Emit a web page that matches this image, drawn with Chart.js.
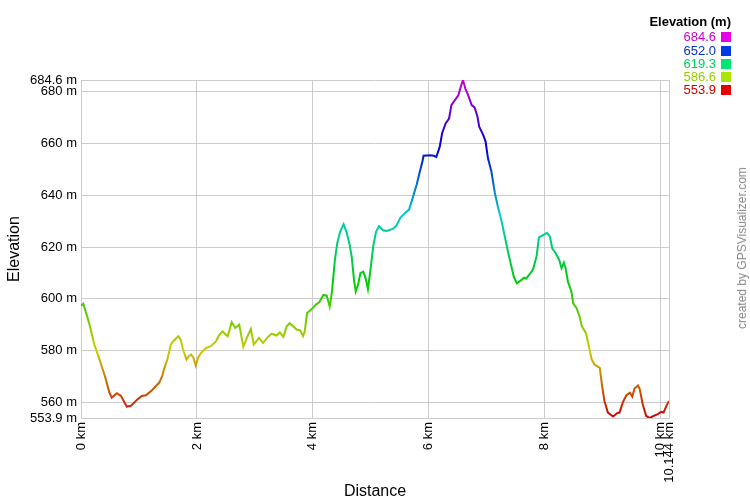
<!DOCTYPE html>
<html>
<head>
<meta charset="utf-8">
<title>Elevation profile</title>
<script src="https://cdn.jsdelivr.net/npm/chart.js@4.4.1/dist/chart.umd.min.js"></script>
<style>
  body { margin: 0; background: #fff; font-family: "Liberation Sans", Arial, sans-serif; }
  #wrap { position: relative; width: 750px; height: 500px; }
  #legend { position: absolute; top: 15px; right: 19px; text-align: right; font-size: 13px; line-height: 13.3px; }
  #legend .title { font-weight: bold; color: #000; margin-bottom: 2px; }
  #legend .row span.sq { display: inline-block; width: 10px; height: 10px; margin-left: 5px; vertical-align: -1px; }
  #credit { position: absolute; left: 742px; top: 248px; color: #888; font-size: 12px; white-space: nowrap;
            transform: translate(-50%, -50%) rotate(-90deg); }
</style>
</head>
<body>
<div id="wrap">
  <canvas id="elevChart" width="750" height="500"></canvas>
  <div id="legend"></div>
  <div id="credit">created by GPSVisualizer.com</div>
</div>
<script>
// Datos del perfil (distancia en km, altitud en m)
const distanceKm = [
  0.00, 0.04, 0.14, 0.23, 0.32, 0.42, 0.49, 0.53, 0.62, 0.69, 0.79, 0.86, 0.98, 1.05, 1.12,
  1.21, 1.28, 1.35, 1.40, 1.44, 1.49, 1.55, 1.59, 1.68, 1.72, 1.76, 1.82, 1.86, 1.90, 1.94,
  1.98, 2.02, 2.07, 2.16, 2.24, 2.33, 2.37, 2.44, 2.53, 2.60, 2.66, 2.73, 2.80, 2.86, 2.93,
  2.98, 3.07, 3.14, 3.21, 3.29, 3.37, 3.43, 3.49, 3.55, 3.60, 3.66, 3.72, 3.78, 3.83, 3.86,
  3.90, 3.98, 4.05, 4.11, 4.18, 4.24, 4.29, 4.33, 4.38, 4.42, 4.47, 4.53, 4.58, 4.63, 4.67,
  4.71, 4.74, 4.78, 4.82, 4.87, 4.91, 4.95, 4.99, 5.04, 5.09, 5.14, 5.21, 5.27, 5.38, 5.44,
  5.51, 5.59, 5.66, 5.73, 5.79, 5.84, 5.89, 5.91, 6.02, 6.09, 6.13, 6.19, 6.23, 6.29, 6.35,
  6.39, 6.43, 6.51, 6.56, 6.59, 6.63, 6.68, 6.74, 6.79, 6.84, 6.87, 6.94, 6.98, 7.02, 7.08,
  7.14, 7.19, 7.25, 7.31, 7.37, 7.43, 7.47, 7.52, 7.60, 7.64, 7.68, 7.74, 7.80, 7.86, 7.90,
  7.97, 8.04, 8.09, 8.13, 8.19, 8.25, 8.29, 8.33, 8.36, 8.40, 8.46, 8.49, 8.55, 8.60, 8.64,
  8.71, 8.75, 8.81, 8.86, 8.95, 8.99, 9.03, 9.09, 9.18, 9.25, 9.29, 9.35, 9.41, 9.47, 9.51,
  9.55, 9.61, 9.64, 9.69, 9.75, 9.81, 9.88, 9.95, 10.01, 10.05, 10.10, 10.144
];
const elevationM = [
  597.3, 598.1, 590.6, 582.3, 576.5, 569.5, 563.7, 561.8, 563.5, 562.4, 558.3, 558.6, 561.2, 562.4, 562.7,
  564.3, 566.0, 567.6, 570.1, 573.3, 576.5, 582.3, 583.6, 585.5, 584.2, 580.4, 576.5, 577.8, 578.5, 577.2,
  574.2, 577.2, 579.1, 581.0, 581.7, 583.6, 585.5, 587.4, 585.5, 590.9, 588.7, 590.0, 581.4, 584.9, 588.3,
  582.3, 584.9, 582.9, 584.9, 586.5, 585.8, 587.0, 585.3, 589.4, 590.6, 589.4, 588.1, 587.8, 585.5, 587.4,
  594.5, 596.0, 597.7, 598.6, 601.5, 601.2, 597.0, 602.8, 615.0, 621.4, 625.9, 628.8, 625.9, 621.4, 616.3,
  607.3, 602.8, 605.4, 609.9, 610.5, 608.0, 603.7, 610.5, 620.1, 625.9, 628.1, 626.5, 626.2, 627.0, 628.3,
  631.3, 633.2, 634.5, 639.6, 644.1, 648.6, 653.1, 655.3, 655.5, 655.3, 654.8, 658.9, 664.0, 667.8, 669.7,
  674.9, 676.2, 678.7, 682.6, 684.6, 681.3, 678.7, 674.9, 674.0, 670.4, 666.5, 663.3, 660.8, 654.4, 649.2,
  640.9, 635.8, 630.6, 624.2, 617.8, 612.0, 608.2, 606.0, 607.3, 608.2, 607.8, 609.5, 611.4, 616.5, 623.7,
  624.6, 625.5, 624.0, 619.5, 617.6, 615.0, 611.8, 614.0, 611.8, 606.7, 602.8, 598.3, 596.4, 593.2, 589.4,
  586.8, 582.9, 576.5, 574.6, 573.3, 566.3, 560.5, 556.0, 554.5, 555.8, 556.0, 560.1, 562.7, 563.7, 562.2,
  565.3, 566.5, 565.0, 559.2, 554.7, 553.9, 554.7, 555.4, 556.3, 556.0, 558.6, 560.5
];

// Marcas de los ejes
const yTicks = [553.9, 560, 580, 600, 620, 640, 660, 680, 684.6];
const xTicks = [0, 2, 4, 6, 8, 10, 10.144];
const legendValues = ['684.6', '652.0', '619.3', '586.6', '553.9'];

const minElev = 553.9;
const maxElev = 684.6;

// Tono segun altitud: rojo (0) -> magenta (300)
function hueFor(elev) {
  return (elev - minElev) / (maxElev - minElev) * 300;
}

// Leyenda de colores
const legendEl = document.getElementById('legend');
legendEl.innerHTML = '<div class="title">Elevation (m)</div>' + legendValues.map(v => {
  const h = hueFor(parseFloat(v));
  return `<div class="row"><span style="color:hsl(${h},100%,40%)">${v}</span>` +
         `<span class="sq" style="background:hsl(${h},100%,45%)"></span></div>`;
}).join('');

function lineGradient(context) {
  const chart = context.chart;
  const area = chart.chartArea;
  if (!area) return '#cc0000';
  const g = chart.ctx.createLinearGradient(0, area.bottom, 0, area.top);
  for (let i = 0; i <= 20; i++) {
    g.addColorStop(i / 20, `hsl(${i * 15}, 100%, 40%)`);
  }
  return g;
}

const font = { family: '"Liberation Sans", Arial, sans-serif', size: 13 };

new Chart(document.getElementById('elevChart'), {
  type: 'line',
  data: {
    datasets: [{
      data: distanceKm.map((d, i) => ({ x: d, y: elevationM[i] })),
      borderColor: lineGradient,
      borderWidth: 2,
      pointRadius: 0,
      tension: 0,
      fill: false
    }]
  },
  options: {
    responsive: false,
    animation: false,
    devicePixelRatio: 1,
    layout: { padding: { top: 80, right: 81, left: 0, bottom: 0 } },
    plugins: { legend: { display: false }, tooltip: { enabled: false } },
    scales: {
      x: {
        type: 'linear',
        min: 0,
        max: 10.144,
        afterBuildTicks: scale => { scale.ticks = xTicks.map(v => ({ value: v })); },
        afterFit: scale => { scale.height = 82; },
        ticks: {
          autoSkip: false,
          maxRotation: 90,
          minRotation: 90,
          padding: 4,
          color: '#000',
          font: font,
          callback: v => v + ' km'
        },
        grid: { color: '#cccccc', drawTicks: false },
        border: { color: '#cccccc' },
        title: {
          display: true,
          text: 'Distance',
          color: '#000',
          font: { family: font.family, size: 16, lineHeight: 1 },
          padding: { top: 0, bottom: 0 }
        }
      },
      y: {
        min: minElev,
        max: maxElev,
        afterBuildTicks: scale => { scale.ticks = yTicks.map(v => ({ value: v })); },
        afterFit: scale => { scale.width = 81; },
        ticks: {
          autoSkip: false,
          padding: 4,
          color: '#000',
          font: font,
          callback: v => v + ' m'
        },
        grid: { color: '#cccccc', drawTicks: false },
        border: { color: '#cccccc' },
        title: {
          display: true,
          text: 'Elevation',
          color: '#000',
          font: { family: font.family, size: 16, lineHeight: 1 },
          padding: { top: 7, bottom: 0 }
        }
      }
    }
  }
});
</script>
</body>
</html>
